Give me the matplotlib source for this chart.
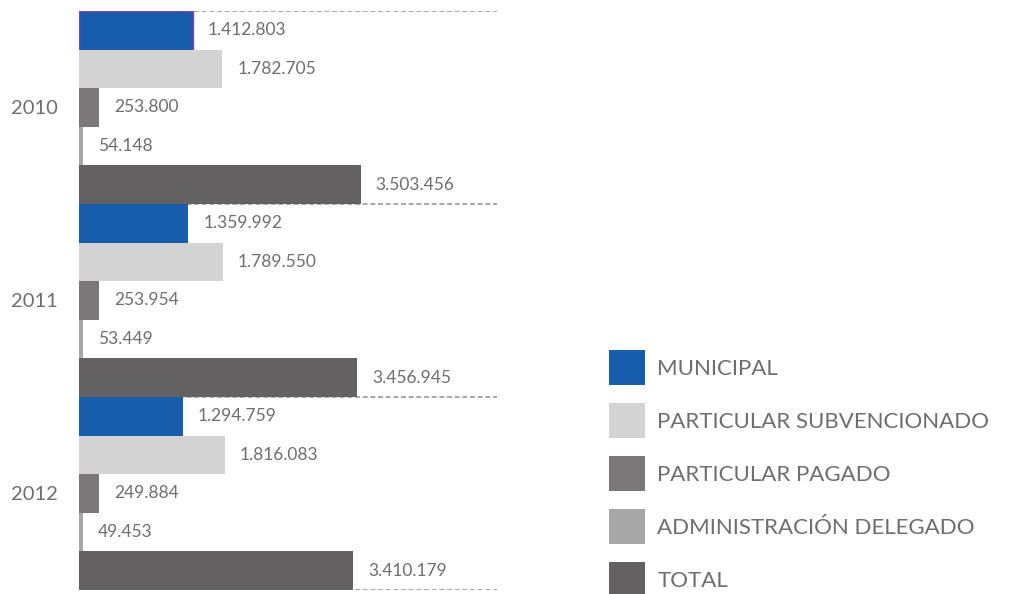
import numpy as np
import matplotlib.pyplot as plt
from matplotlib.patches import Patch

# Enrolment by school type, per year
years = ['2010', '2011', '2012']
categories = ['MUNICIPAL', 'PARTICULAR SUBVENCIONADO', 'PARTICULAR PAGADO',
              'ADMINISTRACIÓN DELEGADO', 'TOTAL']
municipal = [1412803, 1359992, 1294759]
subvencionado = [1782705, 1789550, 1816083]
pagado = [253800, 253954, 249884]
delegado = [54148, 53449, 49453]
total = [3503456, 3456945, 3410179]

colors = ['#175dac', '#d3d3d3', '#7a7879', '#a7a7a7', '#636162']
text_color = '#6d6e71'

plt.rcParams['font.family'] = ['Lato', 'DejaVu Sans']

fig = plt.figure(figsize=(10.09, 5.94), dpi=100)
ax = fig.add_axes([79 / 1009, 4 / 594, 418 / 1009, 579 / 594])

series = [municipal, subvencionado, pagado, delegado, total]
n = len(categories)
for g, year in enumerate(years):
    for i, vals in enumerate(series):
        y = g * n + i
        edge = '#8e3fa0' if (g == 0 and i == 0) else 'none'
        ax.barh(y, vals[g], height=1.0, color=colors[i], edgecolor=edge, linewidth=1)
        label = f'{vals[g]:,}'.replace(',', '.')
        ax.annotate(label, (vals[g], y), xytext=(15, 0), textcoords='offset pixels',
                    va='center', ha='left', fontsize=12.5, color=text_color)

# dashed separators between years
for g in range(len(years) + 1):
    ax.axhline(g * n - 0.5, color='#999999', linewidth=1.2, linestyle=(0, (3, 1.6)), zorder=0)

ax.set_xlim(0, 5.2e6)
ax.set_ylim(len(years) * n - 0.5, -0.5)
ax.set_yticks([g * n + (n - 1) / 2 for g in range(len(years))])
ax.set_yticklabels(years, fontsize=14.5, color=text_color)
ax.tick_params(axis='y', length=0, pad=15)
ax.set_xticks([])
for s in ax.spines.values():
    s.set_visible(False)

handles = [Patch(facecolor=c, edgecolor='none') for c in colors]
fig.legend(handles, categories, loc='upper left',
           bbox_to_anchor=(609 / 1009, 1 - 350 / 594), frameon=False,
           fontsize=16, handlelength=1.62, handleheight=2.05,
           handletextpad=0.55, labelspacing=0.81, borderpad=0,
           borderaxespad=0, labelcolor=text_color)

fig.savefig('out.png', dpi=100)
